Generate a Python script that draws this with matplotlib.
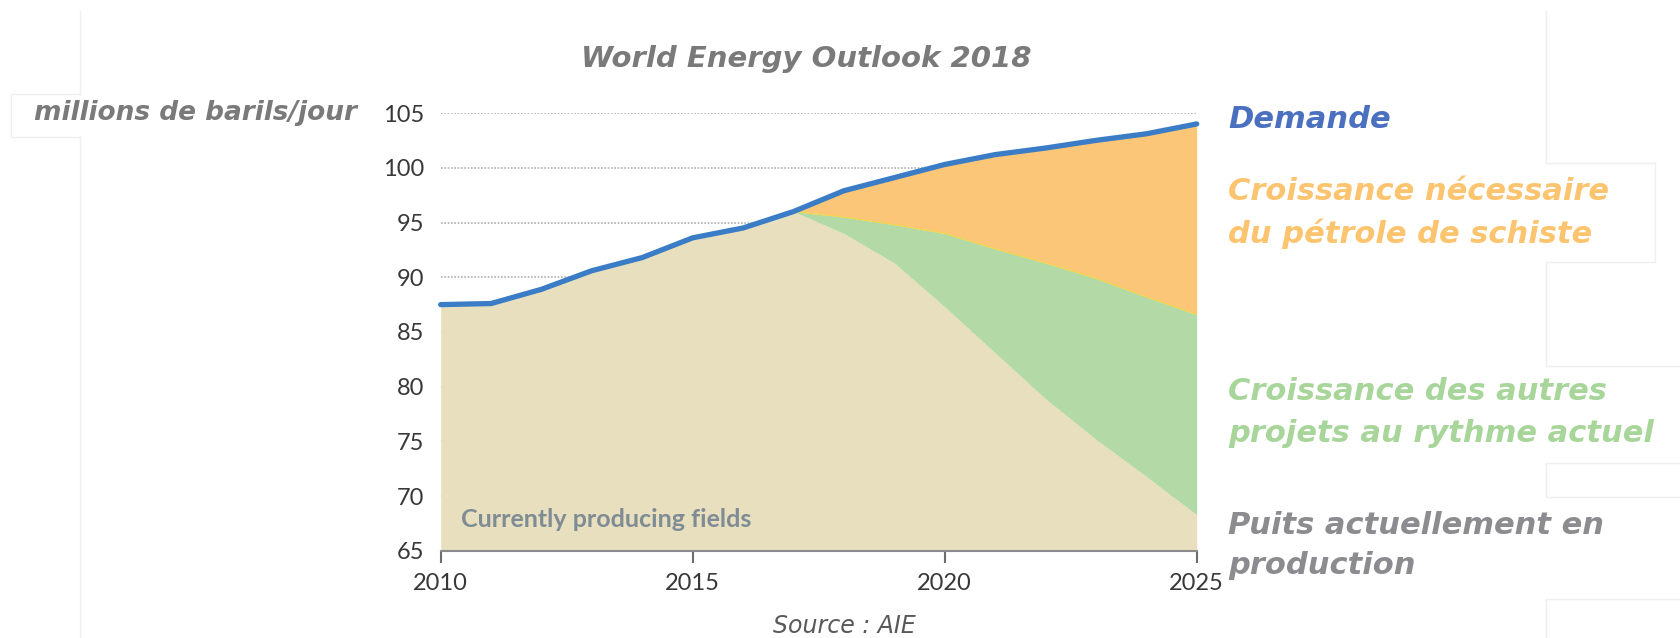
import numpy as np
import matplotlib
matplotlib.use('Agg')
import matplotlib.pyplot as plt
from matplotlib.lines import Line2D

# ── Data (mb/d) ──
years = list(range(2010, 2026))
demand = [87.5, 87.6, 88.9, 90.6, 91.8, 93.6, 94.5, 96.0,
          97.9, 99.1, 100.3, 101.2, 101.8, 102.5, 103.1, 104.0]
producing = [87.5, 87.6, 88.9, 90.6, 91.8, 93.6, 94.5, 96.0,
             94.0, 91.3, 87.3, 83.1, 78.9, 75.2, 71.8, 68.3]
proj_years = years[7:]
with_other = [96.0, 95.5, 94.8, 94.0, 92.6, 91.3, 89.9, 88.2, 86.6]

xticks = [2010, 2015, 2020, 2025]
yticks = [65, 70, 75, 80, 85, 90, 95, 100, 105]

title = 'World Energy Outlook 2018'
unit = 'millions de barils/jour'
source = 'Source : AIE'
inner_label = 'Currently producing fields'
side_labels = [
    ('Demande', 119, '#4a70bf'),
    ('Croissance nécessaire', 192, '#fcc46e'),
    ('du pétrole de schiste', 234, '#fcc46e'),
    ('Croissance des autres', 391, '#a8d69a'),
    ('projets au rythme actuel', 434, '#a8d69a'),
    ('Puits actuellement en', 525, '#8c8c90'),
    ('production', 566, '#8c8c90'),
]

BEIGE = '#e8dfbf'
GREEN = '#b3d9a6'
ORANGE = '#fbc677'
BLUE = '#3a7cc6'

W, H = 1681, 638
fig = plt.figure(figsize=(W / 100, H / 100), dpi=100)
ax = fig.add_axes([440.7 / W, 1 - 551 / H, 756 / W, 438 / H])

# stacked areas
ax.fill_between(years, 65, producing, color=BEIGE, lw=0, zorder=2)
ax.fill_between(proj_years, producing[7:], with_other, color=GREEN, lw=0, zorder=2)
ax.fill_between(proj_years, with_other, demand[7:], color=ORANGE, lw=0, zorder=2)
ax.plot(proj_years, with_other, color='#f0d84a', lw=0.8, zorder=3)
ax.plot(years, demand, color=BLUE, lw=3.8, solid_capstyle='round', zorder=5, clip_on=False)

ax.set_xlim(2010, 2025)
ax.set_ylim(65, 105)
ax.set_xticks(xticks)
ax.set_yticks(yticks)
ax.grid(axis='y', color='#b0b0b0', ls=(0, (1, 1)), lw=1.2, zorder=0)
ax.set_axisbelow(True)
for s in ['left', 'right', 'top']:
    ax.spines[s].set_visible(False)
ax.spines['bottom'].set_color('#8c8c8c')
ax.spines['bottom'].set_linewidth(1.5)
ax.spines['bottom'].set_zorder(6)
ax.tick_params(axis='x', length=8.5, width=1.5, color='#6e6e6e', pad=7,
               labelsize=17, labelcolor='#383838')
ax.tick_params(axis='y', length=0, pad=12, labelsize=17, labelcolor='#383838')
for lab in ax.get_xticklabels() + ax.get_yticklabels():
    lab.set_family('Lato')

ax.text(2010.4, 67.9, inner_label, fontsize=18, fontweight='bold', family='Lato',
        color='#7f8c94', va='center', zorder=6)

# texts around the chart
fig.text(806 / W, 1 - 59 / H, title, ha='center', va='center', fontsize=21,
         fontweight='bold', style='italic', color='#7a7a7a')
fig.text(357 / W, 1 - 113 / H, unit, ha='right', va='center', fontsize=19,
         fontweight='bold', style='italic', color='#7a7a7a')
fig.text(844 / W, 1 - 626 / H, source, ha='center', va='center', fontsize=17,
         style='italic', color='#595959')
for txt, y, col in side_labels:
    fig.text(1228 / W, 1 - y / H, txt, ha='left', va='center', fontsize=22,
             fontweight='bold', style='italic', color=col)

# faint slide box outlines
segs = [
    ((80, 80), (11, 94)), ((11, 80), (94, 94)), ((11, 11), (94, 137)),
    ((11, 80), (137, 137)), ((80, 80), (137, 638)),
    ((1546, 1546), (11, 163)), ((1546, 1655), (163, 163)), ((1655, 1655), (163, 262)),
    ((1546, 1655), (262, 262)), ((1546, 1546), (262, 366)), ((1546, 1681), (366, 366)),
    ((1546, 1681), (463, 463)), ((1546, 1546), (463, 497)), ((1546, 1681), (497, 497)),
    ((1546, 1681), (599, 599)), ((1546, 1546), (599, 638)),
]
for (x0, x1), (y0, y1) in segs:
    fig.add_artist(Line2D([x0 / W, x1 / W], [1 - y0 / H, 1 - y1 / H],
                          transform=fig.transFigure, color='#efefef', lw=1, zorder=0))

plt.savefig('out.png', dpi=100)
plt.close()
